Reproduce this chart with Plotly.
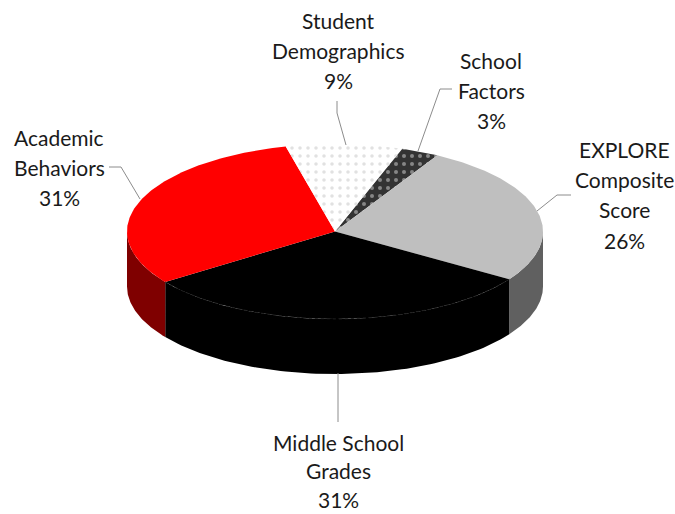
import numpy as np
import plotly.graph_objects as go

categories = ["School Factors", "EXPLORE Composite Score", "Middle School Grades", "Academic Behaviors", "Student Demographics"]
values = [3, 26, 31, 31, 9]
top_colors = ["#333333", "#bfbfbf", "#000000", "#ff0000", "#ffffff"]
wall_colors = ["#1a1a1a", "#606060", "#000000", "#7f0000", "#808080"]
label_lines = [["School", "Factors", "3%"], ["EXPLORE", "Composite", "Score", "26%"], ["Middle School", "Grades", "31%"],
               ["Academic", "Behaviors", "31%"], ["Student", "Demographics", "9%"]]
label_xy = [(491, 60), (624, 149), (338, 442), (59, 137), (338, 20)]
label_pitch = [30.4, 30.4, 28.8, 30.4, 30.4]
leaders = [
    [(418, 151), (440, 89), (452, 89)],
    [(537, 211), (557, 195), (571, 195)],
    [(338, 373), (338, 422)],
    [(140, 199), (121, 167), (109, 167)],
    [(346, 145), (337, 113), (337, 101)],
]
CX, CY, RX, RY, DEPTH = 335, 231.5, 208, 87.5, 55
START = 18.7

def ell(t):
    r = np.radians(t)
    return CX + RX * np.sin(r), CY - RY * np.cos(r)

fig = go.Figure()
edges = START + np.concatenate([[0], np.cumsum(values)]) * 3.6

# visible outer walls
for i in range(len(values)):
    for shift in (0, 360):
        a, b = max(edges[i], 90 + shift), min(edges[i + 1], 270 + shift)
        if a < b:
            t = np.linspace(a, b, 80)
            x, y = ell(t)
            fig.add_trace(go.Scatter(x=np.r_[x, x[::-1]], y=np.r_[y, (y + DEPTH)[::-1]], mode="lines", fill="toself",
                                     fillcolor=wall_colors[i], line=dict(width=0), hoverinfo="skip"))

# top faces
patterns = {
    0: dict(shape=".", bgcolor="#333333", fgcolor="#d9d9d9", size=8, solidity=0.2),
    4: dict(shape=".", bgcolor="#ffffff", fgcolor="#c4c4c4", size=8, solidity=0.16),
}
for i in range(len(values)):
    t = np.linspace(edges[i], edges[i + 1], 120)
    x, y = ell(t)
    kw = dict(fillpattern=patterns[i]) if i in patterns else {}
    fig.add_trace(go.Scatter(x=np.r_[CX, x, CX], y=np.r_[CY, y, CY], mode="lines", fill="toself",
                             fillcolor=top_colors[i], line=dict(width=0), hoverinfo="skip", **kw))

# faint rim on the black slice
t = np.linspace(edges[2], edges[3], 120)
x, y = ell(t)
fig.add_trace(go.Scatter(x=x, y=y, mode="lines", line=dict(color="#1f1f1f", width=1, dash="dot"), hoverinfo="skip"))

for pts in leaders:
    fig.add_trace(go.Scatter(x=[p[0] for p in pts], y=[p[1] for p in pts], mode="lines",
                             line=dict(color="#8c8c8c", width=1), hoverinfo="skip"))

for lines, (lx, ly), pitch in zip(label_lines, label_xy, label_pitch):
    for j, txt in enumerate(lines):
        fig.add_annotation(x=lx, y=ly + j * pitch, text=txt, showarrow=False, xanchor="center", yanchor="middle",
                           align="center", font=dict(family="Lato", size=21, color="#1a1a1a"))

fig.update_layout(width=675, height=514, margin=dict(l=0, r=0, t=0, b=0), showlegend=False,
                  paper_bgcolor="white", plot_bgcolor="white",
                  xaxis=dict(range=[0, 675], visible=False, fixedrange=True),
                  yaxis=dict(range=[514, 0], visible=False, fixedrange=True))
fig.write_html("out.html", config=dict(displayModeBar=False),
               post_script="document.body.style.margin='0';document.body.style.overflow='hidden';")
